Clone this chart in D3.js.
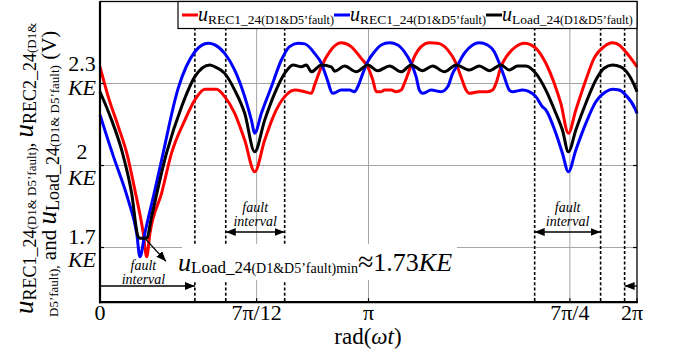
<!DOCTYPE html>
<html><head><meta charset="utf-8">
<script src="https://cdn.jsdelivr.net/npm/d3@7"></script>
<style>
body{margin:0;background:#fff;}
svg{display:block;font-family:"Liberation Serif","Times New Roman",serif;}
</style></head><body>
<svg id="c" width="674" height="360"></svg>
<script>
// ---- data (angle in degrees, value in KE) ----
const xTickValues = [0, 105, 180, 315, 360];
const xTickLabels = ["0", "7π/12", "π", "7π/4", "2π"];
const xGridValues = [105, 180, 315];
const yTickValues = [1.7, 2.0, 2.3];
const yTickLabels = ["1.7", "2", "2.3"];
const faultBounds = [63.6, 84.3, 123.8, 291.4, 335.6, 351.7];
const seriesColors = ["#ff0000", "#0000ff", "#000000"];
const seriesSubs = ["REC1_24", "REC1_24", "Load_24"];
const loadMinValue = 1.73;

const redPoints = [[0,2.361],[5.5,2.252],[12.3,2.142],[17.9,2.046],[23.4,1.910],[29.0,1.753],[31.3,1.666],[33.5,1.753],[41.3,1.899],[48.0,2.046],[56.9,2.166],[63.6,2.240],[70.3,2.279],[78.1,2.279],[83.6,2.252],[90.3,2.191],[97.0,2.093],[103.7,1.977],[110.4,2.093],[117.1,2.191],[123.8,2.252],[130.5,2.276],[137.2,2.270],[141.7,2.264],[143.9,2.295],[148.4,2.361],[153.9,2.416],[161.7,2.449],[168.4,2.435],[175.1,2.392],[179.5,2.361],[182.9,2.313],[185.2,2.270],[188.5,2.270],[190.7,2.276],[195.2,2.276],[198.5,2.270],[201.9,2.276],[204.1,2.301],[207.4,2.349],[210.8,2.398],[215.3,2.435],[220.8,2.449],[226.4,2.447],[233.1,2.423],[238.7,2.374],[242.0,2.325],[245.4,2.276],[247.6,2.264],[254.3,2.270],[259.8,2.270],[263.2,2.276],[265.5,2.301],[268.8,2.361],[273.2,2.404],[278.8,2.435],[284.4,2.447],[288.9,2.441],[293.3,2.423],[298.9,2.374],[304.5,2.301],[308.9,2.228],[314.0,2.118],[319.0,2.203],[325.7,2.313],[331.2,2.392],[337.9,2.435],[343.5,2.449],[348.0,2.441],[352.4,2.416],[359.1,2.368],[360,2.361]];

const bluePoints = [[0,2.185],[5.4,2.093],[8.7,2.038],[18.9,1.874],[24.6,1.752],[26.8,1.666],[30.1,1.753],[36.8,1.910],[41.3,2.020],[52.4,2.282],[63.6,2.416],[72.5,2.447],[77.0,2.441],[83.6,2.410],[90.3,2.349],[97.0,2.252],[101.5,2.166],[103.7,2.118],[108.2,2.191],[114.9,2.288],[121.6,2.386],[127.1,2.435],[132.7,2.447],[137.2,2.445],[143.9,2.410],[148.4,2.374],[151.7,2.325],[156.1,2.264],[161.7,2.276],[167.3,2.276],[170.6,2.270],[172.8,2.288],[176.2,2.337],[179.5,2.380],[184.0,2.416],[188.5,2.441],[194.1,2.449],[199.6,2.441],[204.1,2.416],[208.6,2.374],[211.9,2.325],[214.1,2.276],[216.3,2.264],[222.0,2.276],[228.7,2.270],[233.1,2.288],[236.4,2.337],[239.8,2.368],[244.2,2.410],[249.8,2.441],[254.3,2.449],[259.8,2.441],[264.3,2.416],[267.7,2.374],[271.0,2.325],[274.4,2.276],[276.6,2.270],[283.3,2.276],[287.7,2.270],[292.2,2.252],[296.6,2.215],[298.9,2.203],[305.6,2.118],[310.0,2.045],[314.0,1.977],[319.0,2.057],[325.7,2.154],[332.4,2.233],[339.1,2.270],[343.5,2.279],[348.0,2.276],[352.4,2.258],[359.1,2.203],[360,2.190]];

const blackPoints = [[0,2.270],[7.8,2.166],[14.5,2.057],[21.2,1.899],[25.6,1.739],[26.8,1.734],[31.3,1.734],[34.6,1.813],[44.6,2.045],[54.7,2.215],[63.6,2.325],[73.6,2.368],[77.0,2.361],[83.6,2.337],[90.3,2.276],[97.0,2.191],[103.7,2.050],[110.4,2.166],[117.1,2.264],[123.8,2.337],[129.4,2.368],[135.0,2.361],[138.3,2.368],[141.7,2.343],[148.4,2.368],[155.1,2.361],[157.3,2.345],[164.0,2.364],[171.8,2.343],[179.5,2.368],[186.2,2.347],[194.1,2.364],[201.9,2.343],[208.6,2.368],[216.3,2.347],[223.0,2.364],[230.9,2.343],[238.7,2.368],[247.6,2.349],[254.3,2.364],[261.0,2.347],[268.8,2.368],[274.4,2.349],[279.9,2.364],[285.5,2.364],[292.2,2.337],[298.9,2.276],[305.6,2.191],[310.0,2.130],[314.0,2.050],[319.0,2.130],[325.7,2.228],[332.4,2.313],[337.9,2.356],[343.5,2.368],[349.1,2.361],[354.6,2.331],[359.1,2.282],[360,2.270]];

// ---- drawing ----
const svg = d3.select("#c");
const x = d3.scaleLinear().domain([0, 360]).range([100, 637]);
const y = d3.scaleLinear().domain([1.5, 2.6]).range([302.2, 1.5]);
const X0 = x(0), X1 = x(360), Y0 = y(1.5), Y1 = y(2.6);

const defs = svg.append("defs");
["end","start"].forEach(k => {
  defs.append("marker").attr("id", "ah-" + k)
    .attr("viewBox", "0 0 10 8").attr("refX", 10).attr("refY", 4)
    .attr("markerWidth", 10).attr("markerHeight", 8).attr("markerUnits", "userSpaceOnUse")
    .attr("orient", k === "end" ? "auto" : "auto-start-reverse")
    .append("path").attr("d", "M0,0 L10,4 L0,8 Z").attr("fill", "#000");
});

function rich(sel, parts) {
  let cur = 0;
  parts.forEach(p => {
    const ts = sel.append("tspan").text(p.t).attr("font-size", p.s);
    if (p.i) ts.attr("font-style", "italic");
    const off = p.o || 0;
    if (off !== cur) { ts.attr("dy", off - cur); cur = off; }
  });
}

// grid
svg.append("g").selectAll("line").data(xGridValues).join("line")
  .attr("x1", d => x(d)).attr("x2", d => x(d)).attr("y1", Y1).attr("y2", Y0)
  .attr("stroke", "#a6a6a6").attr("stroke-width", 1);
svg.append("g").selectAll("line").data(yTickValues).join("line")
  .attr("x1", X0).attr("x2", X1).attr("y1", d => y(d)).attr("y2", d => y(d))
  .attr("stroke", "#a6a6a6").attr("stroke-width", 1);

// fault-interval dashed lines
svg.append("g").selectAll("line").data(faultBounds).join("line")
  .attr("x1", d => x(d)).attr("x2", d => x(d)).attr("y1", Y1).attr("y2", Y0)
  .attr("stroke", "#000").attr("stroke-width", 1.6).attr("stroke-dasharray", "3,2.2");

// curves
const line = d3.line().x(d => x(d[0])).y(d => y(d[1])).curve(d3.curveMonotoneX);
[redPoints, bluePoints, blackPoints].forEach((pts, i) => {
  svg.append("path").datum(pts).attr("d", line).attr("fill", "none")
    .attr("stroke", seriesColors[i]).attr("stroke-width", 3).attr("stroke-linejoin", "round");
});

// white box behind annotation
svg.append("rect").attr("x", 182).attr("y", 244).attr("width", 275).attr("height", 36).attr("fill", "#fff");

// frame
svg.append("rect").attr("x", X0).attr("y", Y1).attr("width", X1 - X0).attr("height", Y0 - Y1)
  .attr("fill", "none").attr("stroke", "#000").attr("stroke-width", 1.3);
svg.append("line").attr("x1", X0).attr("x2", X0).attr("y1", Y1).attr("y2", Y0 + 1).attr("stroke", "#000").attr("stroke-width", 2.2);
svg.append("line").attr("x1", X0 - 1).attr("x2", X1 + 1).attr("y1", Y0).attr("y2", Y0).attr("stroke", "#000").attr("stroke-width", 2.2);

// ticks (inward)
yTickValues.forEach(v => {
  svg.append("line").attr("x1", X0).attr("x2", X0 + 4).attr("y1", y(v)).attr("y2", y(v)).attr("stroke", "#000").attr("stroke-width", 1.2);
  svg.append("line").attr("x1", X1).attr("x2", X1 - 4).attr("y1", y(v)).attr("y2", y(v)).attr("stroke", "#000").attr("stroke-width", 1.2);
});
xTickValues.forEach(v => {
  svg.append("line").attr("x1", x(v)).attr("x2", x(v)).attr("y1", Y0).attr("y2", Y0 - 4).attr("stroke", "#000").attr("stroke-width", 1.2);
});

// x tick labels
svg.append("g").selectAll("text").data(xTickValues).join("text")
  .attr("x", (d, i) => x(d) + (i === xTickValues.length - 1 ? -5 : 0)).attr("y", 320)
  .attr("text-anchor", "middle").attr("font-size", 22)
  .text((d, i) => xTickLabels[i]);

// y tick labels (number above, KE below)
const numOff = [-4, -7, -13], keOff = [19, 19, 11];
yTickValues.forEach((v, i) => {
  svg.append("text").attr("x", 82).attr("y", y(v) + numOff[i]).attr("text-anchor", "middle")
    .attr("font-size", 22).text(yTickLabels[i]);
  svg.append("text").attr("x", 82).attr("y", y(v) + keOff[i]).attr("text-anchor", "middle")
    .attr("font-size", 22).attr("font-style", "italic").text("KE");
});

// x axis title
const xt = svg.append("text").attr("x", 368).attr("y", 344).attr("text-anchor", "middle").attr("font-size", 23);
rich(xt, [{t: "rad(", s: 23}, {t: "ωt", s: 23, i: 1}, {t: ")", s: 23}]);

// y axis title (two rotated lines)
const yt1 = svg.append("text").attr("transform", "translate(33,314) rotate(-90)");
rich(yt1, [{t: "u", s: 27, i: 1}, {t: "REC1_24", s: 18, o: 3}, {t: "(D1& D5’fault)", s: 13, o: 3},
  {t: ", ", s: 20}, {t: "u", s: 27, i: 1}, {t: "REC2_24", s: 18, o: 3}, {t: "(D1&", s: 13, o: 3}]);
const yt2 = svg.append("text").attr("transform", "translate(56,317) rotate(-90)");
rich(yt2, [{t: "D5’fault),", s: 13, o: 2}, {t: " and ", s: 21}, {t: "u", s: 27, i: 1},
  {t: "Load_24", s: 18, o: 3}, {t: "(D1& D5’fault)", s: 13, o: 3}, {t: " (V)", s: 21}]);

// fault interval arrows
function arrow(a, b, yy, startHead, endHead) {
  const l = svg.append("line").attr("x1", x(a)).attr("x2", x(b)).attr("y1", yy).attr("y2", yy)
    .attr("stroke", "#000").attr("stroke-width", 1.3);
  if (endHead) l.attr("marker-end", "url(#ah-end)");
  if (startHead) l.attr("marker-start", "url(#ah-start)");
}
arrow(faultBounds[1], faultBounds[2], 232, true, true);
arrow(faultBounds[3], faultBounds[4], 232, true, true);
arrow(0, faultBounds[0], 286, false, true);
arrow(360, faultBounds[5], 286, false, true);

function faultLabel(cx, yFault) {
  svg.append("text").attr("x", cx).attr("y", yFault).attr("text-anchor", "middle")
    .attr("font-size", 14).attr("font-style", "italic").text("fault");
  svg.append("text").attr("x", cx).attr("y", yFault + 14).attr("text-anchor", "middle")
    .attr("font-size", 14).attr("font-style", "italic").text("interval");
}
faultLabel((x(faultBounds[1]) + x(faultBounds[2])) / 2, 212);
faultLabel((x(faultBounds[3]) + x(faultBounds[4])) / 2, 212);
faultLabel((x(0) + x(faultBounds[0])) / 2 - 4, 270);

// min annotation
const mx = x(29.5), my = y(loadMinValue) - 2;
svg.append("line").attr("x1", mx).attr("y1", my).attr("x2", mx + 22).attr("y2", my + 24)
  .attr("stroke", "#000").attr("stroke-width", 1.3).attr("marker-end", "url(#ah-end)");
const ann = svg.append("text").attr("x", 178).attr("y", 271);
rich(ann, [{t: "u", s: 26, i: 1}, {t: "Load_24", s: 17, o: 2}, {t: "(D1&D5’fault)min", s: 14, o: 2},
  {t: "≈", s: 28}, {t: loadMinValue.toFixed(2), s: 26}, {t: "KE", s: 26, i: 1}]);

// legend
svg.append("rect").attr("x", 178).attr("y", Y1).attr("width", X1 - 178).attr("height", 27)
  .attr("fill", "#fff").attr("stroke", "#000").attr("stroke-width", 1.2);
const legX = [182, 334, 486];
seriesColors.forEach((c, i) => {
  svg.append("line").attr("x1", legX[i]).attr("x2", legX[i] + 16).attr("y1", 15).attr("y2", 15)
    .attr("stroke", c).attr("stroke-width", 3);
  const t = svg.append("text").attr("x", legX[i] + 16).attr("y", 21);
  rich(t, [{t: "u", s: 20, i: 1}, {t: seriesSubs[i], s: 13.5, o: 3}, {t: "(D1&D5’fault)", s: 12, o: 3}]);
});
</script>
</body></html>
